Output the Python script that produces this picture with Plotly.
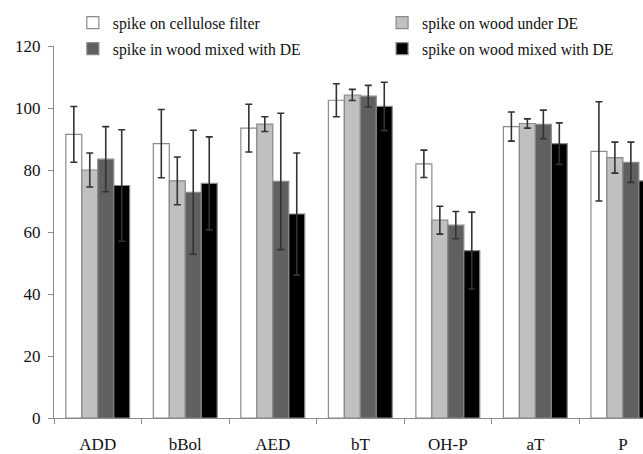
import plotly.graph_objects as go

categories = ["ADD", "bBol", "AED", "bT", "OH-P", "aT", "P"]
series_names = [
    "spike on cellulose filter",
    "spike on wood under DE",
    "spike in wood mixed with DE",
    "spike on wood mixed with DE",
]
values = [
    [91.5, 88.5, 93.5, 102.5, 82.0, 94.0, 86.0],
    [80.0, 76.5, 94.8, 104.2, 63.8, 95.0, 84.0],
    [83.5, 72.8, 76.3, 103.8, 62.2, 94.7, 82.5],
    [75.0, 75.7, 65.8, 100.5, 54.0, 88.5, 76.5],
]
errors = [
    [9.0, 11.0, 7.7, 5.3, 4.4, 4.7, 16.0],
    [5.5, 7.7, 2.4, 1.8, 4.5, 1.5, 5.0],
    [10.5, 20.0, 22.0, 3.5, 4.4, 4.6, 6.5],
    [18.0, 15.0, 19.7, 7.8, 12.4, 6.7, 19.5],
]
fills = ["#ffffff", "#c0c0c0", "#606060", "#000000"]
legend_ids = ["legend", "legend2", "legend3", "legend4"]

fig = go.Figure()
for name, vals, errs, col, lg in zip(series_names, values, errors, fills, legend_ids):
    fig.add_trace(go.Bar(
        x=categories, y=vals, name=name, legend=lg,
        marker=dict(color=col, line=dict(color="#8a8a8a", width=1.2)),
        error_y=dict(type="data", array=errs, visible=True,
                     color="#333333", thickness=1.6, width=3.5),
    ))

legend_common = dict(
    orientation="h", xanchor="left", yanchor="middle",
    font=dict(size=15.7, family="Liberation Serif", color="#111111"),
    bgcolor="rgba(0,0,0,0)",
)

fig.update_layout(
    width=643, height=454,
    margin=dict(l=54, r=0, t=46, b=36),
    paper_bgcolor="white", plot_bgcolor="white",
    barmode="group", bargap=0.27, bargroupgap=0,
    font=dict(family="Liberation Serif", color="#111111"),
    showlegend=True,
    legend=dict(x=0.032, y=1.062, **legend_common),
    legend2=dict(x=0.557, y=1.062, **legend_common),
    legend3=dict(x=0.032, y=0.992, **legend_common),
    legend4=dict(x=0.557, y=0.992, **legend_common),
    xaxis=dict(
        range=[-0.5, 6.23], showline=True, linecolor="#8a8a8a", linewidth=1,
        ticks="outside", tickson="boundaries", ticklen=5, tickcolor="#8a8a8a",
        tickfont=dict(size=17, family="Liberation Serif", color="#111111"),
        showgrid=False, zeroline=False, ticklabelstandoff=11,
    ),
    yaxis=dict(
        range=[0, 120], tickvals=[0, 20, 40, 60, 80, 100, 120],
        showline=True, linecolor="#8a8a8a", linewidth=1,
        ticks="outside", ticklen=5, tickcolor="#8a8a8a",
        tickfont=dict(size=17, family="Liberation Serif", color="#111111"),
        showgrid=False, zeroline=False, ticklabelstandoff=4,
    ),
)

fig.write_html("out.html")
